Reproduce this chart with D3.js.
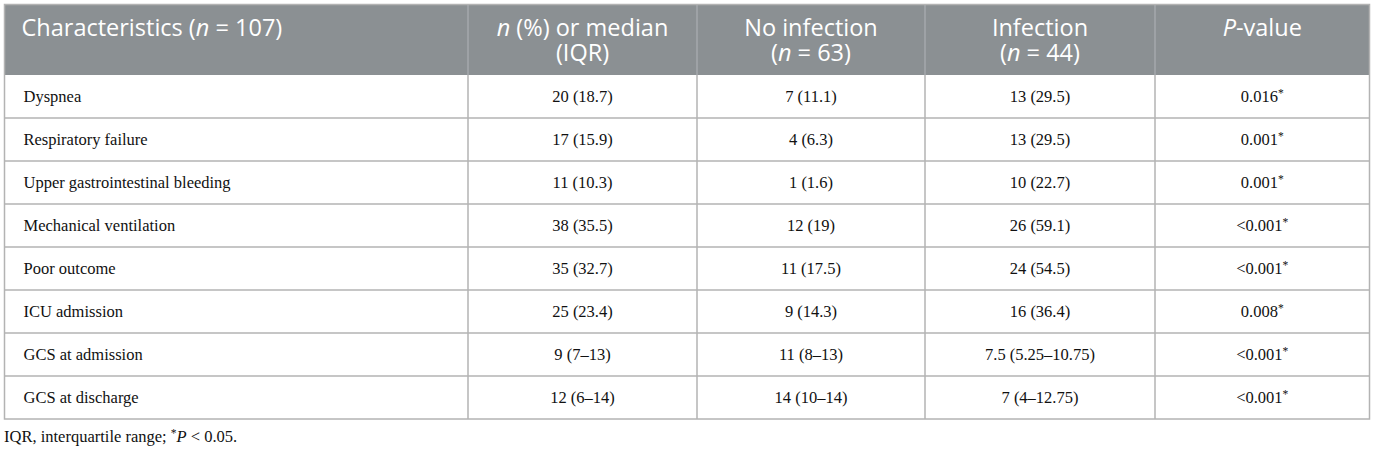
<!DOCTYPE html>
<html lang="en">
<head>
<meta charset="UTF-8">
<title>table</title>
<script src="https://cdn.jsdelivr.net/npm/d3@7/dist/d3.min.js"></script>
<style>
	body { margin: 0; background: #fff; }
	.head { fill: #fff; font-family: "Open Sans", "Noto Sans", sans-serif; font-size: 23.5px; }
	.cell { fill: #111; font-family: "Liberation Serif", "DejaVu Serif", serif; font-size: 16.5px; }
	.note { fill: #111; font-family: "Liberation Serif", serif; font-size: 16.5px; }
	.grid { stroke: #b3b3b3; stroke-width: 1.5px; }
</style>
</head>
<body>
<svg id="svg" width="1375" height="453"></svg>
<script>
	// _x_ marks italic, ^x^ marks superscript
	var headers = [
		["Characteristics (_n_ = 107)"],
		["_n_ (%) or median", "(IQR)"],
		["No infection", "(_n_ = 63)"],
		["Infection", "(_n_ = 44)"],
		["_P_-value"]
	];
	var characteristics = ["Dyspnea", "Respiratory failure", "Upper gastrointestinal bleeding",
		"Mechanical ventilation", "Poor outcome", "ICU admission", "GCS at admission", "GCS at discharge"];
	var overall = ["20 (18.7)", "17 (15.9)", "11 (10.3)", "38 (35.5)", "35 (32.7)", "25 (23.4)", "9 (7–13)", "12 (6–14)"];
	var noInfection = ["7 (11.1)", "4 (6.3)", "1 (1.6)", "12 (19)", "11 (17.5)", "9 (14.3)", "11 (8–13)", "14 (10–14)"];
	var infection = ["13 (29.5)", "13 (29.5)", "10 (22.7)", "26 (59.1)", "24 (54.5)", "16 (36.4)", "7.5 (5.25–10.75)", "7 (4–12.75)"];
	var pValues = ["0.016^*^", "0.001^*^", "0.001^*^", "<0.001^*^", "<0.001^*^", "0.008^*^", "<0.001^*^", "<0.001^*^"];
	var footnote = "IQR, interquartile range; ^*^_P_ < 0.05.";

	var columns = [characteristics, overall, noInfection, infection, pValues];

	var tLeft = 4.5, tRight = 1369.5, tTop = 4.5, headBottom = 75, tBottom = 419;
	var colEdges = [tLeft, 468, 697, 925, 1155, tRight];

	var svg = d3.select("#svg");

	var y = d3.scaleBand().domain(d3.range(characteristics.length)).range([headBottom, tBottom]);
	var col = d3.scaleOrdinal().domain(d3.range(columns.length)).range(colEdges.slice(0, -1));
	function colW(i) { return colEdges[i + 1] - colEdges[i]; }
	function textX(i) { return i === 0 ? col(0) + 18 : col(i) + colW(i) / 2; }

	function rich(sel, str) {
		var parts = str.split(/(_[^_]+_|\^[^^]+\^)/).filter(function (s) { return s.length; });
		var raised = false;
		parts.forEach(function (p) {
			var t = sel.append("tspan");
			if (raised) { t.attr("dy", "0.32em"); raised = false; }
			if (p[0] === "_") t.style("font-style", "italic").text(p.slice(1, -1));
			else if (p[0] === "^") { t.attr("font-size", "0.7em").attr("dy", "-0.45em").text(p.slice(1, -1)); raised = true; }
			else t.text(p);
		});
	}

	// header background
	svg.append("rect").attr("x", tLeft).attr("y", tTop).attr("width", tRight - tLeft).attr("height", headBottom - tTop)
		.attr("fill", "#8b9093");

	// row lines
	svg.selectAll("line.row").data(d3.range(1, characteristics.length)).join("line")
		.attr("class", "grid row")
		.attr("x1", tLeft).attr("x2", tRight)
		.attr("y1", function (d) { return y(d); }).attr("y2", function (d) { return y(d); });

	// column lines, lighter inside the header
	svg.selectAll("line.colh").data(d3.range(1, columns.length)).join("line")
		.attr("class", "grid colh")
		.attr("x1", function (d) { return col(d); }).attr("x2", function (d) { return col(d); })
		.attr("y1", tTop).attr("y2", headBottom)
		.style("stroke", "#a4a9ac");
	svg.selectAll("line.colb").data(d3.range(1, columns.length)).join("line")
		.attr("class", "grid colb")
		.attr("x1", function (d) { return col(d); }).attr("x2", function (d) { return col(d); })
		.attr("y1", headBottom).attr("y2", tBottom);

	// outer border
	svg.append("rect").attr("class", "grid").attr("fill", "none")
		.attr("x", tLeft).attr("y", tTop).attr("width", tRight - tLeft).attr("height", tBottom - tTop);

	// header text
	headers.forEach(function (lines, i) {
		lines.forEach(function (line, k) {
			var t = svg.append("text").attr("class", "head")
				.attr("x", textX(i) + (i === 0 ? -1 : 0))
				.attr("y", 36 + k * 25)
				.attr("text-anchor", i === 0 ? "start" : "middle");
			rich(t, line);
		});
	});

	// cells
	columns.forEach(function (vals, i) {
		vals.forEach(function (v, r) {
			var t = svg.append("text").attr("class", "cell")
				.attr("x", i === 0 ? textX(0) + 1 : textX(i))
				.attr("y", y(r) + y.bandwidth() / 2 + 5.5)
				.attr("text-anchor", i === 0 ? "start" : "middle");
			rich(t, v);
		});
	});

	// footnote
	rich(svg.append("text").attr("class", "note").attr("x", 4).attr("y", 442), footnote);
</script>
</body>
</html>
